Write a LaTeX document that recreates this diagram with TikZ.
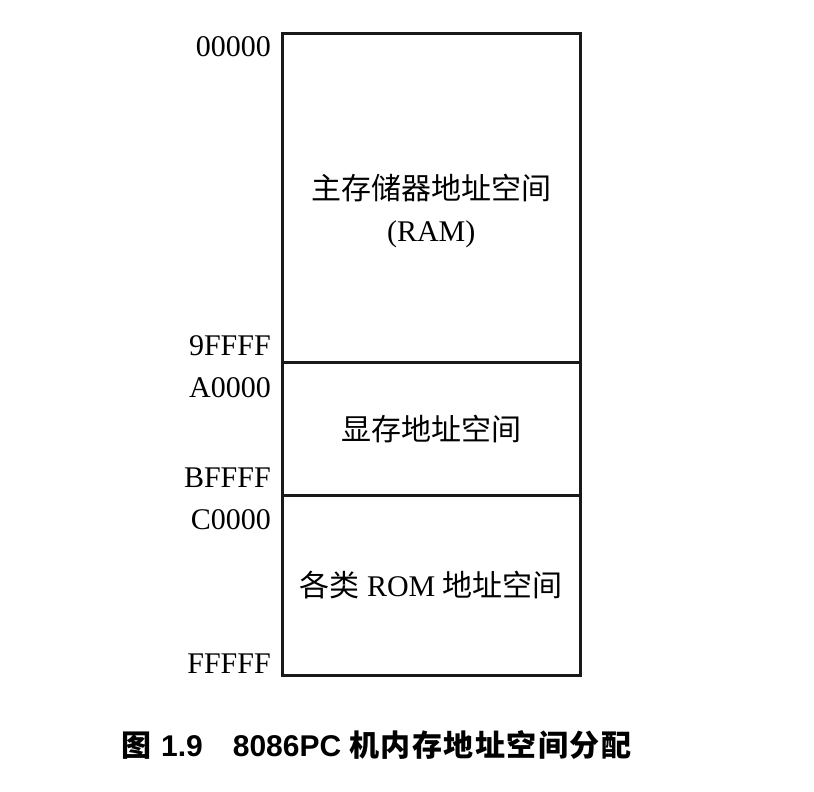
\documentclass[tikz,border=0pt]{standalone}
\usepackage{fontspec}
\setmainfont{Liberation Serif}
\newfontfamily\cjk{Noto Sans CJK SC}
\newfontfamily\capzh[LetterSpace=5]{Noto Sans CJK SC}
\newfontfamily\capfont{Liberation Sans}
\usepackage{tikz}
\usetikzlibrary{positioning}
\newcommand{\zh}[1]{{\cjk #1}}
\tikzset{
	%Define style for the memory regions
	region/.style={
		rectangle,
		draw=black!90, line width=3pt,
		minimum width=298.5pt,
		inner sep=0pt, outer sep=0pt},
	%Define style for the address labels
	addr/.style={
		inner sep=0pt,
		font=\fontsize{30}{36}\selectfont},
	% Define style for texts in the regions
	inside/.style={
		align=center,
		font=\fontsize{30}{42}\selectfont}
}
\begin{document}
\begin{tikzpicture}[x=1pt,y=-1pt]
	\useasboundingbox (0,0) rectangle (814,792);
	
	\node[region,minimum height=328.5pt,anchor=north west] (ram) at (282,34) {};
	\node[inside] (ram-txt) at ([yshift=-13pt]ram.center) {\zh{主存储器地址空间}\\(RAM)};
	
	\node[region,minimum height=132.5pt,below = 0pt of ram,inside] (vram) {\zh{显存地址空间}};
	\node[region,minimum height=180pt,below = 0pt of vram,inside] (rom) {\zh{各类} ROM \zh{地址空间}};
	
	\node[addr,anchor=east] (a-00000) at ([xshift=-11pt,yshift=-13pt]ram.north west) {00000};
	\node[addr,anchor=east] (a-9ffff) at ([xshift=-11pt,yshift=17pt]ram.south west) {9FFFF};
	\node[addr,anchor=east] (a-a0000) at ([xshift=-11pt,yshift=-25pt]vram.north west) {A0000};
	\node[addr,anchor=east] (a-bffff) at ([xshift=-11pt,yshift=17pt]vram.south west) {BFFFF};
	\node[addr,anchor=east] (a-c0000) at ([xshift=-11pt,yshift=-25pt]rom.north west) {C0000};
	\node[addr,anchor=east] (a-fffff) at ([xshift=-11pt,yshift=11pt]rom.south west) {FFFFF};
	
	\node[inner sep=0pt,anchor=west,font=\fontsize{30}{36}\selectfont\bfseries] (caption) at (121,745) {{\capzh 图}\hspace{10pt}{\capfont 1.9}\hspace{30pt}{\capfont 8086PC}\hspace{8pt}{\capzh 机内存地址空间分配}};
	
\end{tikzpicture}
\end{document}
